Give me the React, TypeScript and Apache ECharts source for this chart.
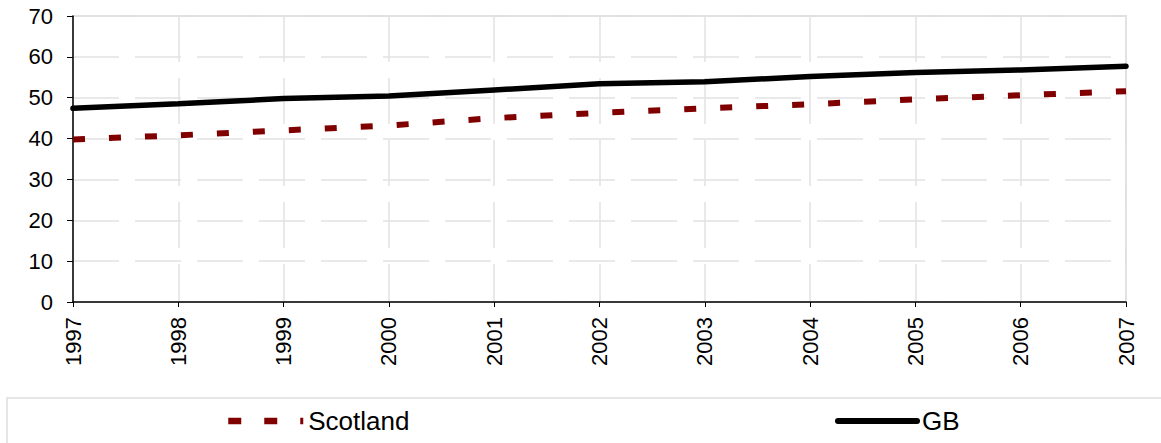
import React, { useEffect, useRef } from "react";
import * as echarts from "echarts";

const years = ["1997", "1998", "1999", "2000", "2001", "2002", "2003", "2004", "2005", "2006", "2007"];
const scotland = [39.8, 40.8, 42.0, 43.2, 45.0, 46.3, 47.4, 48.4, 49.6, 50.6, 51.6];
const gb = [47.4, 48.5, 49.8, 50.4, 51.9, 53.4, 53.9, 55.2, 56.2, 56.8, 57.7];
const yTicks = { min: 0, max: 70, interval: 10 };

const FONT = "'Liberation Sans', Arial, sans-serif";

export default function App() {
  const ref = useRef<HTMLDivElement>(null);
  useEffect(() => {
    if (!ref.current) return;
    const chart = echarts.init(ref.current, undefined, { renderer: "svg" });
    const gridLine = { show: true, lineStyle: { color: "#e2e2e2", width: 1.5, type: [46, 16] as any } };
    chart.setOption({
      animation: false,
      backgroundColor: "#fff",
      textStyle: { fontFamily: FONT },
      grid: {
        left: 73,
        right: 35,
        top: 16,
        bottom: 141,
        show: true,
        borderColor: "#e0e0e0",
        borderWidth: 2,
        containLabel: false,
      },
      xAxis: {
        type: "category",
        data: years,
        boundaryGap: false,
        axisLine: { show: true, lineStyle: { color: "#000", width: 1.5 } },
        axisTick: { show: true, length: 5, lineStyle: { color: "#000" } },
        axisLabel: { rotate: 90, fontSize: 22, color: "#000", margin: 15, fontFamily: FONT },
        splitLine: gridLine,
      },
      yAxis: {
        type: "value",
        min: yTicks.min,
        max: yTicks.max,
        interval: yTicks.interval,
        axisLine: { show: true, lineStyle: { color: "#000", width: 1.5 } },
        axisTick: { show: true, length: 6, lineStyle: { color: "#000" } },
        axisLabel: { fontSize: 22, color: "#000", margin: 20, fontFamily: FONT },
        splitLine: gridLine,
      },
      legend: [
        {
          data: ["Scotland"],
          left: 220,
          top: 403,
          itemWidth: 75,
          itemHeight: 22,
          textStyle: { fontSize: 26, color: "#000", fontFamily: FONT },
          itemStyle: { opacity: 0 },
          lineStyle: { width: 6.5, type: [13, 23] as any, cap: "butt" },
        },
        {
          data: ["GB"],
          left: 830,
          top: 403,
          itemWidth: 79,
          itemHeight: 22,
          textStyle: { fontSize: 26, color: "#000", fontFamily: FONT },
          itemStyle: { opacity: 0 },
          lineStyle: { width: 6, cap: "round" },
        },
      ],
      graphic: [
        {
          type: "rect",
          shape: { x: 7, y: 398, width: 1200, height: 100 },
          style: { fill: "none", stroke: "#dedede", lineWidth: 1.5 },
          silent: true,
        },
      ],
      series: [
        {
          name: "Scotland",
          type: "line",
          data: scotland,
          symbol: "none",
          lineStyle: { color: "#800000", width: 6, type: [12, 24] as any, cap: "butt" },
          itemStyle: { color: "#800000" },
          z: 3,
        },
        {
          name: "GB",
          type: "line",
          data: gb,
          symbol: "none",
          lineStyle: { color: "#000", width: 5.5, cap: "round" },
          itemStyle: { color: "#000" },
          z: 4,
        },
      ],
    });
    return () => chart.dispose();
  }, []);
  return (
    <div
      ref={ref}
      style={{ position: "fixed", left: 0, top: 0, width: 1161, height: 443 }}
    />
  );
}
